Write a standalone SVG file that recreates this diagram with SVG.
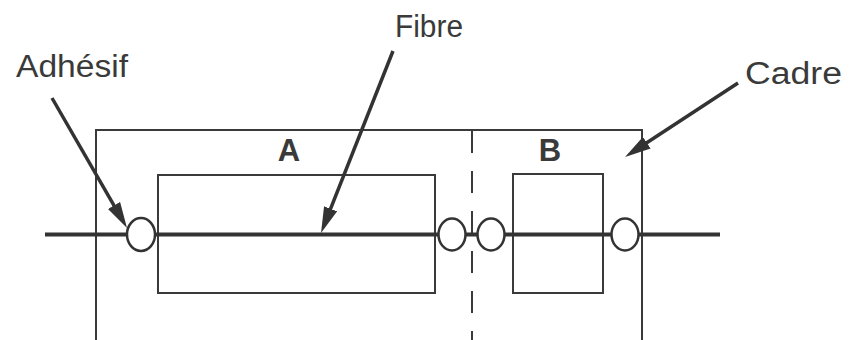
<svg xmlns="http://www.w3.org/2000/svg" width="851" height="340" viewBox="0 0 851 340">
<style>
.thin{fill:none;stroke:#3a3a3a;stroke-width:2}
.fib{stroke:#333;stroke-width:4;fill:none}
.adh{fill:#fff;stroke:#333;stroke-width:2.5}
.arr{stroke:#333;stroke-width:3.5;fill:none;marker-end:url(#ah)}
.lbl{font-family:"Liberation Sans",Arial,sans-serif;font-size:31px;fill:#3a3a3a}
.sec{font-family:"Liberation Sans",Arial,sans-serif;font-size:31px;font-weight:bold;fill:#3a3a3a;text-anchor:middle}
</style>
<defs>
<marker id="ah" markerUnits="userSpaceOnUse" markerWidth="27" markerHeight="15" refX="16" refY="7" orient="auto" viewBox="0 0 27 14">
<path d="M0,0 L26,7 L0,14 z" fill="#333"/>
</marker>
</defs>
<g id="cadre">
<path class="thin" d="M96,340 V130 H642 V340"/>
<line class="thin" x1="472" y1="131" x2="472" y2="340" stroke-dasharray="22,18"/>
</g>
<g id="boxA"><rect class="thin" x="158" y="175" width="277" height="118"/></g>
<g id="boxB"><rect class="thin" x="513" y="174" width="90" height="119"/></g>
<g id="fibre"><line class="fib" x1="45" y1="234.5" x2="720" y2="234.5"/></g>
<g id="adhesifs">
<ellipse class="adh" cx="141" cy="234.5" rx="14" ry="16.5"/>
<ellipse class="adh" cx="452" cy="234.5" rx="13.5" ry="16"/>
<ellipse class="adh" cx="491" cy="234.5" rx="13.5" ry="16"/>
<ellipse class="adh" cx="625" cy="234.5" rx="13.5" ry="16"/>
</g>
<g id="connectors">
<line class="arr" x1="52" y1="98" x2="122" y2="219.3"/>
<line class="arr" x1="393" y1="51" x2="324.7" y2="223.7"/>
<line class="arr" x1="738" y1="83" x2="633.4" y2="151.5"/>
</g>
<g id="labels">
<text class="lbl" x="16" y="77" textLength="112" lengthAdjust="spacingAndGlyphs">Adhésif</text>
<text class="lbl" x="395" y="37" textLength="68" lengthAdjust="spacingAndGlyphs">Fibre</text>
<text class="lbl" x="745" y="84" textLength="97" lengthAdjust="spacingAndGlyphs">Cadre</text>
<text class="sec" x="289" y="161">A</text>
<text class="sec" x="550" y="161">B</text>
</g>
</svg>
